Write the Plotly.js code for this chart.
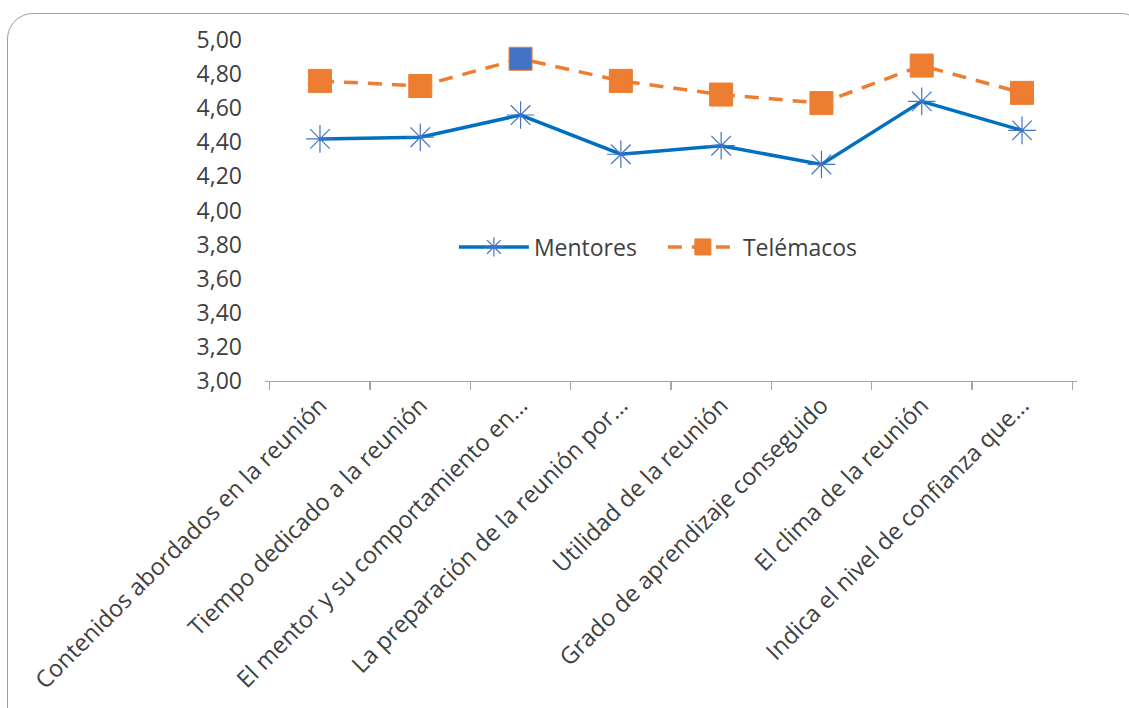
<!DOCTYPE html>
<html>
<head>
<meta charset="utf-8">
<script src="https://cdn.plot.ly/plotly-3.0.1.min.js"></script>
<style>
html,body{margin:0;padding:0;background:#fff;}
#wrap{position:relative;width:1129px;height:708px;overflow:hidden;}
#frame{position:absolute;left:7px;top:13px;width:1140px;height:740px;border:1.5px solid #A0A0A0;border-radius:26px;box-sizing:border-box;}
#chart{position:absolute;left:0;top:0;width:1129px;height:708px;}
</style>
</head>
<body>
<div id="wrap"><div id="frame"></div><div id="chart"></div></div>
<script>
const categories = [
  "Contenidos abordados en la reunión",
  "Tiempo dedicado a la reunión",
  "El mentor y su comportamiento en...",
  "La preparación de la reunión por...",
  "Utilidad de la reunión",
  "Grado de aprendizaje conseguido",
  "El clima de la reunión",
  "Indica el nivel de confianza que..."
];
const mentores = [4.42, 4.43, 4.56, 4.33, 4.38, 4.27, 4.64, 4.47];
const telemacos = [4.76, 4.73, 4.89, 4.76, 4.68, 4.63, 4.85, 4.69];
const yTicks = [3.0, 3.2, 3.4, 3.6, 3.8, 4.0, 4.2, 4.4, 4.6, 4.8, 5.0];

const orange = "#ED7D31";
const telFill = telemacos.map((v, i) => i === 2 ? "#4472C4" : orange);

const font = "Open Sans, Noto Sans, sans-serif";

const traces = [
  {
    x: categories, y: mentores, name: "Mentores", type: "scatter", mode: "lines+markers",
    line: {color: "#0070C0", width: 3.5},
    marker: {symbol: "asterisk-open", size: 23, line: {color: "#4472C4", width: 1.2}, color: "#4472C4"}
  },
  {
    x: categories, y: telemacos, name: "Telémacos", type: "scatter", mode: "lines+markers",
    line: {color: orange, width: 3.5, dash: "14px,10px"},
    marker: {symbol: "square", size: 23, color: telFill, line: {color: orange, width: 1}}
  }
];

const layout = {
  width: 1129, height: 708,
  margin: {l: 265, r: 52, t: 40, b: 327},
  paper_bgcolor: "rgba(0,0,0,0)",
  plot_bgcolor: "rgba(0,0,0,0)",
  separators: ",.",
  font: {family: font, size: 23, color: "#404040"},
  showlegend: true,
  legend: {
    orientation: "h", x: 0.49, y: 0.393, xanchor: "center", yanchor: "middle",
    font: {family: font, size: 23, color: "#404040"},
    itemwidth: 70, entrywidth: 124, entrywidthmode: "pixels",
    bgcolor: "rgba(0,0,0,0)", tracegroupgap: 0
  },
  xaxis: {
    type: "category", categoryarray: categories, categoryorder: "array",
    showline: true, linecolor: "#A6A6A6", linewidth: 1.3,
    ticks: "outside", ticklen: 8, tickcolor: "#A6A6A6", tickwidth: 1.3,
    tickson: "boundaries", tickangle: -45, showgrid: false, zeroline: false,
    tickfont: {family: font, size: 23.5, color: "#404040"}
  },
  xaxis2: {
    type: "category", categoryarray: categories, categoryorder: "array",
    overlaying: "x", matches: "x", anchor: "y",
    showline: false, ticks: "inside", ticklen: 8, tickcolor: "#A6A6A6", tickwidth: 1.3,
    tickson: "boundaries", showticklabels: false, showgrid: false, zeroline: false
  },
  yaxis: {
    range: [3, 5], tickvals: yTicks, tickformat: ".2f",
    showline: false, showgrid: false, zeroline: false, ticks: "",
    ticklabelstandoff: 22,
    tickfont: {family: font, size: 23, color: "#404040"}
  }
};

Plotly.newPlot("chart", traces, layout, {displayModeBar: false, staticPlot: true});
</script>
</body>
</html>
